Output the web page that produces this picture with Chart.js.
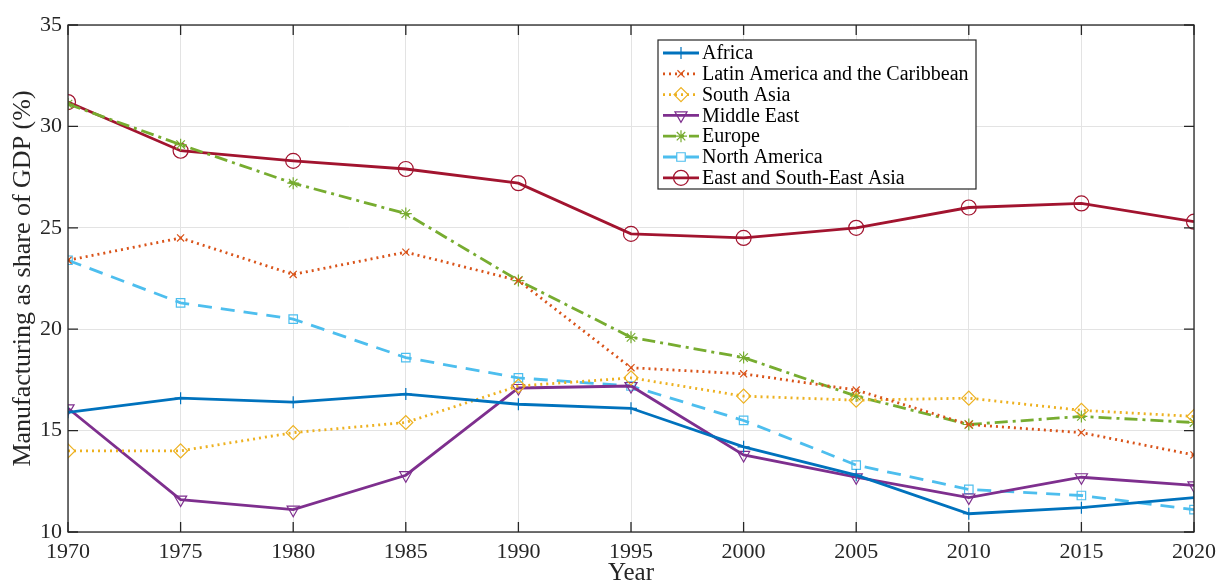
<!DOCTYPE html>
<html>
<head>
<meta charset="utf-8">
<script src="https://cdn.jsdelivr.net/npm/chart.js@4.4.1/dist/chart.umd.min.js"></script>
<style>
  html, body { margin: 0; padding: 0; background: #fff; }
  #wrap { width: 1217px; height: 581px; }
</style>
</head>
<body>
<div id="wrap"><canvas id="myChart" width="1217" height="581"></canvas></div>
<script>
var years = [1970, 1975, 1980, 1985, 1990, 1995, 2000, 2005, 2010, 2015, 2020];
var yTicks = [10, 15, 20, 25, 30, 35];

var africa       = [15.9, 16.6, 16.4, 16.8, 16.3, 16.1, 14.2, 12.8, 10.9, 11.2, 11.7];
var latinAmerica = [23.4, 24.5, 22.7, 23.8, 22.4, 18.1, 17.8, 17.0, 15.3, 14.9, 13.8];
var southAsia    = [14.0, 14.0, 14.9, 15.4, 17.2, 17.6, 16.7, 16.5, 16.6, 16.0, 15.7];
var middleEast   = [16.1, 11.6, 11.1, 12.8, 17.1, 17.2, 13.8, 12.7, 11.7, 12.7, 12.3];
var europe       = [31.1, 29.1, 27.2, 25.7, 22.4, 19.6, 18.6, 16.7, 15.3, 15.7, 15.4];
var northAmerica = [23.4, 21.3, 20.5, 18.6, 17.6, 17.2, 15.5, 13.3, 12.1, 11.8, 11.1];
var eastAsia     = [31.2, 28.8, 28.3, 27.9, 27.2, 24.7, 24.5, 25.0, 26.0, 26.2, 25.3];

var seriesNames = [
  'Africa',
  'Latin America and the Caribbean',
  'South Asia',
  'Middle East',
  'Europe',
  'North America',
  'East and South-East Asia'
];
var seriesValues = [africa, latinAmerica, southAsia, middleEast, europe, northAmerica, eastAsia];

var styles = [
  { color: '#0072BD', marker: 'cross',    rot: 0,   dash: [],            r: 6 },
  { color: '#D95319', marker: 'crossRot', rot: 0,   dash: [2, 4],        r: 5 },
  { color: '#EDB120', marker: 'rectRot',  rot: 0,   dash: [2, 4],        r: 7 },
  { color: '#7E2F8E', marker: 'triangle', rot: 180, dash: [],            r: 7 },
  { color: '#77AC30', marker: 'star',     rot: 0,   dash: [13, 5, 3, 5], r: 6 },
  { color: '#4DBEEE', marker: 'rect',     rot: 0,   dash: [14, 9],       r: 6 },
  { color: '#A2142F', marker: 'circle',   rot: 0,   dash: [],            r: 7.5 }
];

var serif = '"Liberation Serif", "Times New Roman", serif';

function buildDatasets() {
  var ds = [];
  for (var i = 0; i < seriesNames.length; i++) {
    var pts = [];
    for (var j = 0; j < years.length; j++) {
      pts.push({ x: years[j], y: seriesValues[i][j] });
    }
    var s = styles[i];
    ds.push({
      label: seriesNames[i],
      data: pts,
      borderColor: s.color,
      backgroundColor: 'rgba(0,0,0,0)',
      borderWidth: 2.8,
      borderDash: s.dash,
      pointStyle: s.marker,
      pointRotation: s.rot,
      pointRadius: s.r,
      pointBorderWidth: 1.2,
      pointBorderColor: s.color,
      pointBackgroundColor: 'rgba(0,0,0,0)',
      tension: 0,
      fill: false
    });
  }
  return ds;
}

// box around plot + inward tick marks (matlab look)
var boxPlugin = {
  id: 'boxPlugin',
  afterDatasetsDraw: function(chart) {
    var ctx = chart.ctx, a = chart.chartArea;
    var xs = chart.scales.x, ys = chart.scales.y;
    ctx.save();
    ctx.strokeStyle = '#262626';
    ctx.lineWidth = 1.3;
    ctx.strokeRect(a.left, a.top, a.right - a.left, a.bottom - a.top);
    ctx.beginPath();
    years.forEach(function(v) {
      var px = xs.getPixelForValue(v);
      ctx.moveTo(px, a.bottom); ctx.lineTo(px, a.bottom - 10);
      ctx.moveTo(px, a.top); ctx.lineTo(px, a.top + 10);
    });
    yTicks.forEach(function(v) {
      var py = ys.getPixelForValue(v);
      ctx.moveTo(a.left, py); ctx.lineTo(a.left + 10, py);
      ctx.moveTo(a.right, py); ctx.lineTo(a.right - 10, py);
    });
    ctx.stroke();
    ctx.restore();
  }
};

// legend drawn inside the plot area
var legendPlugin = {
  id: 'insideLegend',
  afterDraw: function(chart) {
    var ctx = chart.ctx;
    var left = 658, top = 40, w = 318, h = 149, rowH = 20.8;
    ctx.save();
    ctx.fillStyle = '#fff';
    ctx.fillRect(left, top, w, h);
    ctx.strokeStyle = '#262626';
    ctx.lineWidth = 1.2;
    ctx.strokeRect(left, top, w, h);
    ctx.font = '20px ' + serif;
    ctx.textBaseline = 'middle';
    for (var i = 0; i < seriesNames.length; i++) {
      var s = styles[i];
      var y = top + 13 + i * rowH;
      ctx.strokeStyle = s.color;
      ctx.lineWidth = 2.8;
      ctx.setLineDash(s.dash);
      ctx.beginPath();
      ctx.moveTo(left + 5, y);
      ctx.lineTo(left + 41, y);
      ctx.stroke();
      ctx.setLineDash([]);
      ctx.lineWidth = 1.2;
      ctx.fillStyle = 'rgba(0,0,0,0)';
      Chart.helpers.drawPoint(ctx, { pointStyle: s.marker, rotation: s.rot, radius: s.r, borderWidth: 1.2 }, left + 23, y);
      ctx.fillStyle = '#000';
      ctx.fillText(seriesNames[i], left + 44, y + 1);
    }
    ctx.restore();
  }
};

var myChart = new Chart(document.getElementById('myChart').getContext('2d'), {
  type: 'line',
  data: { datasets: buildDatasets() },
  options: {
    responsive: false,
    animation: false,
    layout: { padding: { left: 0, right: 23, top: 25, bottom: 0 } },
    plugins: {
      legend: { display: false },
      tooltip: { enabled: false }
    },
    scales: {
      x: {
        type: 'linear',
        min: 1970,
        max: 2020,
        afterFit: function(scale) {
          scale.height = 49;
          scale.paddingLeft = 0;
          scale.paddingRight = 0;
        },
        afterBuildTicks: function(scale) {
          scale.ticks = years.map(function(v) { return { value: v }; });
        },
        ticks: {
          callback: function(v) { return String(v); },
          font: { family: serif, size: 22 },
          color: '#262626',
          padding: 7,
          maxRotation: 0
        },
        grid: { color: '#e3e3e3', lineWidth: 1, drawTicks: false },
        border: { display: false },
        title: {
          display: true,
          text: 'Year',
          font: { family: serif, size: 25 },
          color: '#262626',
          padding: { top: 0, bottom: -7 }
        }
      },
      y: {
        min: 10,
        max: 35,
        afterFit: function(scale) { scale.width = 68; },
        afterBuildTicks: function(scale) {
          scale.ticks = yTicks.map(function(v) { return { value: v }; });
        },
        ticks: {
          font: { family: serif, size: 22 },
          color: '#262626',
          padding: 6
        },
        grid: { color: '#e3e3e3', lineWidth: 1, drawTicks: false },
        border: { display: false },
        title: {
          display: true,
          text: 'Manufacturing as share of GDP (%)',
          font: { family: serif, size: 26 },
          color: '#262626',
          padding: { top: 8, bottom: 0 }
        }
      }
    }
  },
  plugins: [boxPlugin, legendPlugin]
});
</script>
</body>
</html>
